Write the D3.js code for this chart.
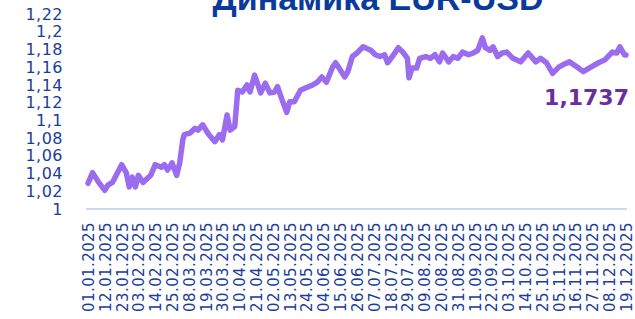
<!DOCTYPE html>
<html>
<head>
<meta charset="utf-8">
<script src="https://cdn.jsdelivr.net/npm/d3@7"></script>
<style>
  body { margin: 0; background: #fff; }
  svg { display: block; }
</style>
</head>
<body>
<div id="chart"></div>
<script>
var dates = ['01.01','04.01','08.01','12.01','14.01','17.01','23.01','26.01','28.01','30.01',
  '01.02','03.02','06.02','11.02','14.02','18.02','20.02','22.02','25.02','28.02',
  '02.03','04.03','05.03','09.03','12.03','14.03','17.03','21.03','25.03','28.03','30.03',
  '02.04','04.04','07.04','09.04','12.04','15.04','17.04','20.04','24.04','27.04','30.04',
  '03.05','05.05','08.05','11.05','13.05','16.05','20.05','24.05','28.05','31.05',
  '03.06','06.06','10.06','12.06','15.06','18.06','20.06','23.06','26.06','30.06',
  '05.07','08.07','11.07','14.07','16.07','20.07','23.07','26.07','29.07','30.07',
  '01.08','04.08','06.08','10.08','13.08','16.08','19.08','21.08','25.08','28.08','31.08',
  '03.09','07.09','10.09','13.09','16.09','18.09','21.09','23.09','26.09','29.09',
  '02.10','06.10','11.10','16.10','21.10','24.10','28.10',
  '01.11','05.11','08.11','12.11','18.11','21.11','26.11',
  '01.12','05.12','10.12','13.12','15.12','18.12','19.12'];

var rates = [1.029,1.041,1.030,1.021,1.027,1.030,1.050,1.041,1.025,1.036,
  1.025,1.038,1.030,1.038,1.050,1.047,1.050,1.044,1.052,1.038,
  1.052,1.078,1.084,1.086,1.091,1.089,1.095,1.084,1.076,1.084,1.078,
  1.106,1.089,1.093,1.134,1.132,1.140,1.132,1.151,1.131,1.142,1.131,
  1.132,1.138,1.123,1.109,1.121,1.121,1.134,1.137,1.140,1.143,
  1.149,1.143,1.160,1.165,1.157,1.149,1.155,1.172,1.176,1.183,
  1.179,1.174,1.172,1.174,1.165,1.174,1.182,1.177,1.170,1.148,
  1.159,1.159,1.170,1.172,1.170,1.174,1.166,1.176,1.166,1.172,1.170,
  1.177,1.174,1.176,1.179,1.193,1.182,1.179,1.183,1.172,1.176,
  1.177,1.170,1.166,1.176,1.166,1.170,1.165,
  1.153,1.160,1.163,1.166,1.159,1.155,1.160,
  1.165,1.168,1.177,1.176,1.183,1.174,1.1737];

var yTicks = [1, 1.02, 1.04, 1.06, 1.08, 1.1, 1.12, 1.14, 1.16, 1.18, 1.2, 1.22];

var tickLabels = ['01.01.2025','12.01.2025','23.01.2025','03.02.2025','14.02.2025','25.02.2025',
  '08.03.2025','19.03.2025','30.03.2025','10.04.2025','21.04.2025','02.05.2025','13.05.2025',
  '24.05.2025','04.06.2025','15.06.2025','26.06.2025','07.07.2025','18.07.2025','29.07.2025',
  '09.08.2025','20.08.2025','31.08.2025','11.09.2025','22.09.2025','03.10.2025','14.10.2025',
  '25.10.2025','05.11.2025','16.11.2025','27.11.2025','08.12.2025','19.12.2025'];

var title = 'Динамика EUR-USD';
var lastLabel = '1,1737';

var width = 635, height = 319;
var plotLeft = 88, plotRight = 626, plotTop = 14, plotBottom = 209;

var svg = d3.select('#chart').append('svg')
    .attr('width', width)
    .attr('height', height);

var parse = d3.timeParse('%d.%m.%Y');
var data = dates.map(function(d, i) {
  return {date: parse(d + '.2025'), value: rates[i]};
});

var xScale = d3.scaleTime()
    .domain([parse(tickLabels[0]), parse(tickLabels[tickLabels.length - 1])])
    .range([plotLeft, plotRight]);
var yScale = d3.scaleLinear().domain([1, 1.22]).range([plotBottom, plotTop]);

var fmt = d3.format('.2~f');

// title, cut at the top like the original
svg.append('text')
    .attr('x', 378)
    .attr('y', 10)
    .attr('text-anchor', 'middle')
    .style('font-family', 'Liberation Sans, Arial, sans-serif')
    .style('font-weight', 'bold')
    .style('font-size', '34px')
    .style('fill', '#0a3a9c')
    .text(title);

// y axis labels
var yAxis = svg.append('g')
    .attr('transform', 'translate(63,0)')
    .call(d3.axisLeft(yScale).tickValues(yTicks).tickSize(0).tickPadding(0)
      .tickFormat(function(d) { return fmt(d).replace('.', ','); }));
yAxis.select('.domain').remove();
yAxis.selectAll('text')
    .style('font-family', 'DejaVu Sans, sans-serif')
    .style('font-size', '16px')
    .style('letter-spacing', '0.5px')
    .style('fill', '#1a3d9c');

// baseline
svg.append('line')
    .attr('x1', plotLeft - 2)
    .attr('x2', plotRight + 1)
    .attr('y1', yScale(1))
    .attr('y2', yScale(1))
    .style('stroke', '#c8daf6')
    .style('stroke-width', 2);

// x axis labels
var xAxis = svg.append('g')
    .attr('transform', 'translate(0,222)')
    .call(d3.axisBottom(xScale).tickValues(tickLabels.map(parse)).tickSize(0).tickPadding(0)
      .tickFormat(function(d, i) { return tickLabels[i]; }));
xAxis.select('.domain').remove();
xAxis.selectAll('text')
    .attr('transform', 'rotate(-90)')
    .attr('x', 0)
    .attr('y', 0)
    .attr('dy', '0.36em')
    .style('text-anchor', 'end')
    .style('font-family', 'DejaVu Sans, sans-serif')
    .style('font-size', '15px')
    .style('letter-spacing', '0.4px')
    .style('fill', '#1a3d9c');

// line
var line = d3.line()
    .x(function(d) { return xScale(d.date); })
    .y(function(d) { return yScale(d.value); });

svg.append('path')
    .datum(data)
    .attr('d', line)
    .style('fill', 'none')
    .style('stroke', '#9b6cf0')
    .style('stroke-width', 5.5)
    .style('stroke-linejoin', 'round')
    .style('stroke-linecap', 'round');

// last value
svg.append('text')
    .attr('x', 629)
    .attr('y', 105)
    .attr('text-anchor', 'end')
    .style('font-family', 'DejaVu Sans, sans-serif')
    .style('font-weight', 'bold')
    .style('font-size', '22px')
    .style('fill', '#6a2e9f')
    .text(lastLabel);
</script>
</body>
</html>
